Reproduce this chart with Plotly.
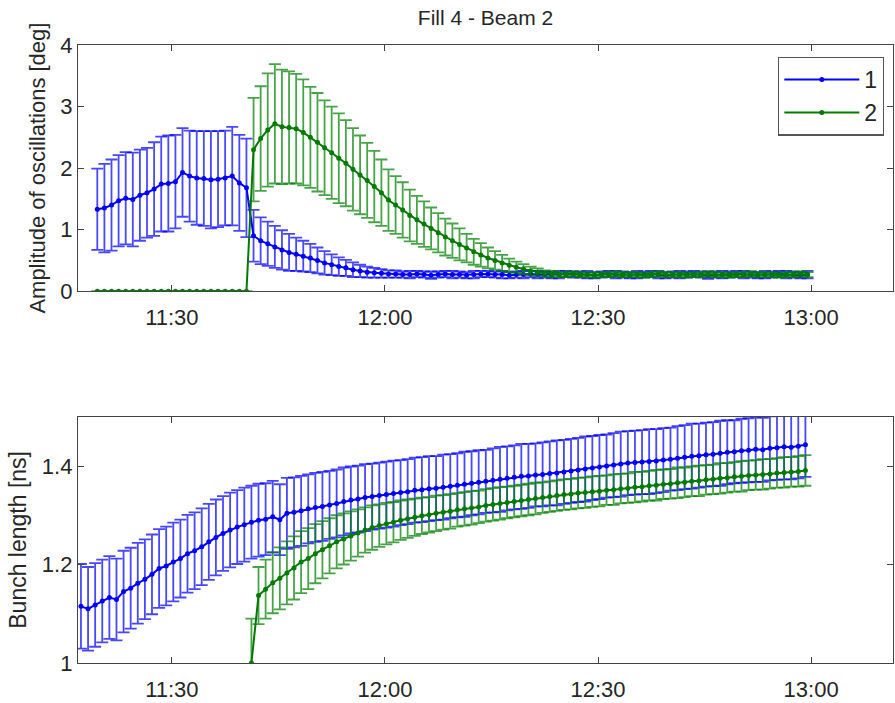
import pandas as pd
import plotly.graph_objects as go

# ---------------------------------------------------------------- data ----
# Amplitude of oscillations [deg], one sample per minute from 11:19:30
amp_start = "2009-11-20 11:19:30"
amp_beam1 = [
    1.33, 1.35, 1.40, 1.47, 1.51, 1.49, 1.56, 1.60, 1.66, 1.74,
    1.75, 1.78, 1.93, 1.87, 1.84, 1.83, 1.81, 1.82, 1.84, 1.87,
    1.76, 1.68,
    0.90, 0.82, 0.77, 0.72, 0.67, 0.63, 0.60, 0.57, 0.54, 0.50,
    0.46, 0.43, 0.40, 0.38, 0.35, 0.33, 0.31, 0.30, 0.29, 0.28,
    0.28, 0.27, 0.27, 0.28, 0.27, 0.26, 0.27, 0.28, 0.27, 0.27,
    0.26, 0.27, 0.28, 0.28, 0.27, 0.27, 0.26, 0.27, 0.27, 0.28,
    0.27, 0.27, 0.26, 0.27, 0.28, 0.27, 0.27, 0.27, 0.26, 0.27,
    0.28, 0.27, 0.27, 0.26, 0.27, 0.27, 0.28, 0.27, 0.26, 0.27,
    0.27, 0.27, 0.28, 0.27, 0.26, 0.27, 0.27, 0.27, 0.28, 0.27,
    0.27, 0.26, 0.27, 0.27, 0.28, 0.27, 0.27, 0.26, 0.27,
]
amp_beam1_err = [
    0.66, 0.72, 0.74, 0.74, 0.75, 0.76, 0.74, 0.73, 0.76, 0.77,
    0.78, 0.76, 0.72, 0.74, 0.76, 0.77, 0.79, 0.78, 0.77, 0.80,
    0.78, 0.80,
    0.42, 0.38, 0.36, 0.34, 0.32, 0.30, 0.27, 0.25, 0.23, 0.21,
    0.19, 0.17, 0.15, 0.13, 0.12, 0.10, 0.09, 0.08, 0.07, 0.06,
    0.06, 0.05, 0.06, 0.05, 0.05, 0.06, 0.05, 0.05, 0.06, 0.05,
    0.05, 0.06, 0.05, 0.05, 0.05, 0.06, 0.05, 0.05, 0.06, 0.05,
    0.06, 0.05, 0.05, 0.06, 0.05, 0.05, 0.05, 0.06, 0.05, 0.05,
    0.05, 0.06, 0.05, 0.05, 0.06, 0.05, 0.05, 0.06, 0.05, 0.05,
    0.06, 0.05, 0.05, 0.05, 0.06, 0.05, 0.06, 0.05, 0.05, 0.06,
    0.05, 0.05, 0.06, 0.05, 0.05, 0.06, 0.05, 0.05, 0.06,
]
amp_beam2 = [
    0.00, 0.00, 0.00, 0.00, 0.00, 0.00, 0.00, 0.00, 0.00, 0.00,
    0.00, 0.00, 0.00, 0.00, 0.00, 0.00, 0.00, 0.00, 0.00, 0.00,
    0.00, 0.00,
    2.30, 2.48, 2.62, 2.72, 2.67, 2.66, 2.64, 2.58, 2.50, 2.42,
    2.33, 2.25, 2.16, 2.08, 1.98, 1.89, 1.80, 1.70, 1.60, 1.48,
    1.40, 1.32, 1.23, 1.16, 1.09, 1.02, 0.95, 0.88, 0.82, 0.76,
    0.70, 0.64, 0.59, 0.54, 0.50, 0.46, 0.42, 0.39, 0.36, 0.33,
    0.31, 0.29, 0.28,
    0.27, 0.27, 0.28, 0.27, 0.27, 0.26, 0.27, 0.27, 0.28, 0.27,
    0.27, 0.27, 0.26, 0.27, 0.28, 0.27, 0.27, 0.27, 0.26, 0.27,
    0.27, 0.28, 0.27, 0.27, 0.26, 0.27, 0.27, 0.28, 0.27, 0.27,
    0.27, 0.26, 0.27, 0.27, 0.28, 0.27,
]
amp_beam2_err = [
    0.00, 0.00, 0.00, 0.00, 0.00, 0.00, 0.00, 0.00, 0.00, 0.00,
    0.00, 0.00, 0.00, 0.00, 0.00, 0.00, 0.00, 0.00, 0.00, 0.00,
    0.00, 0.00,
    0.84, 0.85, 0.92, 0.97, 0.93, 0.91, 0.89, 0.86, 0.82, 0.80,
    0.77, 0.75, 0.73, 0.70, 0.67, 0.64, 0.61, 0.58, 0.54, 0.50,
    0.47, 0.45, 0.42, 0.39, 0.37, 0.34, 0.32, 0.30, 0.28, 0.26,
    0.23, 0.21, 0.19, 0.17, 0.15, 0.13, 0.11, 0.09, 0.08, 0.07,
    0.06, 0.05, 0.05,
    0.04, 0.04, 0.04, 0.04, 0.04, 0.04, 0.04, 0.04, 0.04, 0.04,
    0.04, 0.04, 0.04, 0.04, 0.04, 0.04, 0.04, 0.04, 0.04, 0.04,
    0.04, 0.04, 0.04, 0.04, 0.04, 0.04, 0.04, 0.04, 0.04, 0.04,
    0.04, 0.04, 0.04, 0.04, 0.04, 0.04,
]

# Bunch length [ns], one sample per minute from 11:17:12
bl_start = "2009-11-20 11:17:12"
bl_beam1 = [
    1.115, 1.110, 1.118, 1.126, 1.133, 1.129, 1.145, 1.152, 1.162, 1.170,
    1.180, 1.192, 1.197, 1.205, 1.212, 1.222, 1.228, 1.236, 1.246, 1.255,
    1.263, 1.270, 1.276, 1.281, 1.286, 1.290, 1.292, 1.297, 1.291, 1.304,
    1.306, 1.309, 1.313, 1.316, 1.318, 1.321, 1.324, 1.328, 1.331, 1.333,
    1.336, 1.338, 1.340, 1.342, 1.344, 1.346, 1.348, 1.351, 1.352, 1.354,
    1.355, 1.357, 1.359, 1.361, 1.363, 1.365, 1.367, 1.369, 1.371, 1.373,
    1.375, 1.377, 1.379, 1.380, 1.382, 1.383, 1.385, 1.386, 1.388, 1.390,
    1.392, 1.394, 1.396, 1.398, 1.400, 1.402, 1.404, 1.406, 1.407, 1.408,
    1.409, 1.410, 1.412, 1.414, 1.416, 1.418, 1.420, 1.421, 1.423, 1.424,
    1.426, 1.428, 1.429, 1.431, 1.432, 1.434, 1.433, 1.436, 1.437, 1.439,
    1.438, 1.440, 1.443,
]
bl_beam1_err = [
    0.086, 0.085, 0.085, 0.084, 0.084, 0.083, 0.083, 0.082, 0.082, 0.081,
    0.081, 0.080, 0.080, 0.080, 0.079, 0.079, 0.078, 0.078, 0.077, 0.077,
    0.076, 0.076, 0.075, 0.075, 0.074, 0.074, 0.073, 0.073, 0.072, 0.072,
    0.071, 0.071, 0.070, 0.070, 0.070, 0.069, 0.069, 0.069, 0.068, 0.068,
    0.068, 0.067, 0.067, 0.067, 0.067, 0.066, 0.066, 0.066, 0.066, 0.066,
    0.065, 0.066, 0.065, 0.065, 0.066, 0.065, 0.065, 0.064, 0.065, 0.066,
    0.065, 0.065, 0.066, 0.065, 0.064, 0.065, 0.065, 0.066, 0.065, 0.065,
    0.065, 0.066, 0.065, 0.065, 0.064, 0.065, 0.066, 0.065, 0.065, 0.065,
    0.066, 0.065, 0.065, 0.064, 0.065, 0.065, 0.066, 0.065, 0.065, 0.065,
    0.066, 0.065, 0.064, 0.065, 0.065, 0.066, 0.065, 0.065, 0.065, 0.066,
    0.065, 0.065, 0.065,
]
bl_beam2_offset = 24  # beam 2 bunch length starts with the 25th sample
bl_beam2 = [
    1.000, 1.137, 1.150, 1.163, 1.172, 1.183, 1.193, 1.205, 1.212, 1.222,
    1.230, 1.238, 1.246, 1.252, 1.258, 1.264, 1.270, 1.275, 1.279, 1.283,
    1.286, 1.290, 1.293, 1.296, 1.299, 1.301, 1.304, 1.306, 1.308, 1.311,
    1.313, 1.315, 1.317, 1.320, 1.322, 1.324, 1.326, 1.328, 1.330, 1.332,
    1.334, 1.336, 1.338, 1.340, 1.342, 1.343, 1.345, 1.346, 1.348, 1.349,
    1.351, 1.352, 1.354, 1.355, 1.357, 1.358, 1.360, 1.361, 1.363, 1.364,
    1.366, 1.367, 1.369, 1.370, 1.372, 1.373, 1.375, 1.376, 1.378, 1.379,
    1.381, 1.382, 1.383, 1.384, 1.386, 1.387, 1.388, 1.389, 1.391,
]
bl_beam2_err = [
    0.090, 0.058, 0.060, 0.062, 0.063, 0.064, 0.064, 0.063, 0.062, 0.060,
    0.058, 0.056, 0.054, 0.052, 0.050, 0.048, 0.046, 0.045, 0.043, 0.042,
    0.041, 0.040, 0.039, 0.038, 0.037, 0.036, 0.036, 0.035, 0.035, 0.034,
    0.034, 0.034, 0.033, 0.033, 0.033, 0.033, 0.032, 0.032, 0.032, 0.032,
    0.032, 0.031, 0.031, 0.031, 0.031, 0.031, 0.031, 0.031, 0.031, 0.031,
    0.030, 0.031, 0.030, 0.030, 0.031, 0.030, 0.030, 0.031, 0.030, 0.030,
    0.031, 0.030, 0.030, 0.031, 0.030, 0.030, 0.031, 0.030, 0.030, 0.031,
    0.030, 0.030, 0.031, 0.030, 0.030, 0.031, 0.030, 0.031, 0.031,
]

x_ticks = ["2009-11-20 11:30", "2009-11-20 12:00",
           "2009-11-20 12:30", "2009-11-20 13:00"]
x_range = ["2009-11-20 11:16:47", "2009-11-20 13:11:32"]
series_names = ["1", "2"]

# ---------------------------------------------------------------- style ---
BLUE, GREEN = "#0000ff", "#007a00"
BLUE_BAR, GREEN_BAR = "rgba(0,0,255,0.72)", "rgba(0,128,0,0.72)"
FONT = "Liberation Sans, Arial, Helvetica, sans-serif"
INK = "#262626"

amp_t = pd.date_range(amp_start, periods=len(amp_beam1), freq="60s")
bl_t = pd.date_range(bl_start, periods=len(bl_beam1), freq="60s")
bl_t2 = bl_t[bl_beam2_offset:bl_beam2_offset + len(bl_beam2)]


def series(x, y, err, color, bar_color, name, xa, ya, legend):
    return go.Scatter(
        x=x, y=y, name=name, xaxis=xa, yaxis=ya, showlegend=legend,
        mode="lines+markers",
        line=dict(color=color, width=2),
        marker=dict(color=color, size=5),
        error_y=dict(type="data", array=err, visible=True,
                     color=bar_color, thickness=1.8, width=6),
    )


fig = go.Figure()
fig.add_trace(series(amp_t, amp_beam1, amp_beam1_err, BLUE, BLUE_BAR,
                     series_names[0], "x", "y", True))
fig.add_trace(series(amp_t, amp_beam2, amp_beam2_err, GREEN, GREEN_BAR,
                     series_names[1], "x", "y", True))
fig.add_trace(series(bl_t, bl_beam1, bl_beam1_err, BLUE, BLUE_BAR,
                     series_names[0], "x2", "y2", False))
fig.add_trace(series(bl_t2, bl_beam2, bl_beam2_err, GREEN, GREEN_BAR,
                     series_names[1], "x2", "y2", False))

axis_common = dict(
    showline=True, linecolor="#444", linewidth=1.3, mirror="ticks",
    ticks="inside", ticklen=6, tickcolor="#444", tickwidth=1,
    showgrid=False, zeroline=False,
    tickfont=dict(family=FONT, size=22, color=INK),
)
x_common = dict(axis_common, type="date", range=x_range,
                tickvals=x_ticks, tickformat="%H:%M", ticklabelstandoff=6)

TOP = [0.6016, 1.0]
BOTTOM = [0.0, 0.3984]

fig.update_layout(
    width=895, height=703,
    margin=dict(l=78, r=1, t=45, b=33),
    paper_bgcolor="white", plot_bgcolor="white",
    font=dict(family=FONT, color=INK),
    title=dict(text="Fill 4 - Beam 2", x=0.5, xref="paper",
               y=1 - 18 / 703, yanchor="middle",
               font=dict(family=FONT, size=21, color=INK)),
    xaxis=dict(x_common, domain=[0, 1], anchor="y"),
    yaxis=dict(axis_common, domain=TOP, anchor="x", range=[0, 4],
               tickvals=[0, 1, 2, 3, 4],
               title=dict(text="Amplitude of oscillations [deg]",
                          font=dict(family=FONT, size=22, color=INK),
                          standoff=8)),
    xaxis2=dict(x_common, domain=[0, 1], anchor="y2"),
    yaxis2=dict(axis_common, domain=BOTTOM, anchor="x2", range=[1, 1.5],
                tickvals=[1, 1.2, 1.4], ticktext=["1", "1.2", "1.4"],
                title=dict(text="Bunch length [ns]",
                           font=dict(family=FONT, size=23, color=INK),
                           standoff=8)),
    legend=dict(x=0.989, xanchor="right", y=0.981, yanchor="top",
                bgcolor="white", bordercolor="#555", borderwidth=1.3,
                font=dict(family=FONT, size=23, color=INK),
                itemwidth=75, tracegroupgap=0),
)

fig.write_html("out.html")
